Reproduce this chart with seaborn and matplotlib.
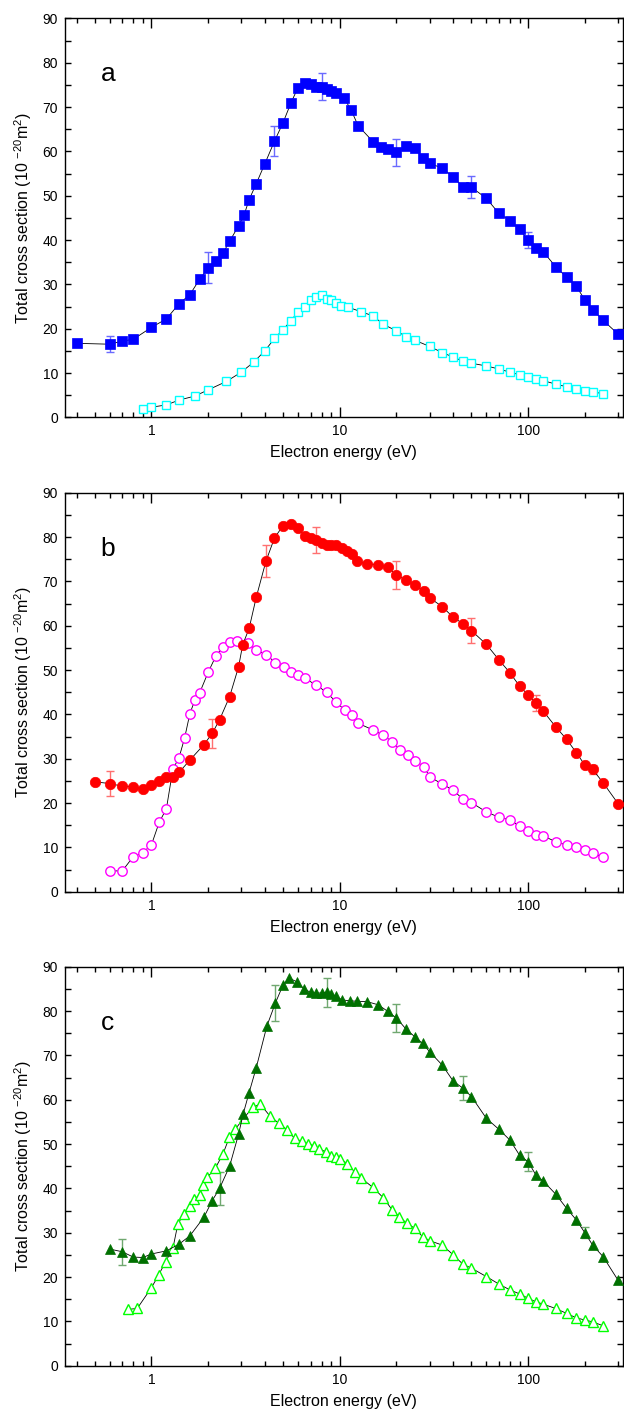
import matplotlib
matplotlib.use("Agg")
import matplotlib.pyplot as plt
import matplotlib.ticker as mticker
import numpy as np
import seaborn as sns

sns.set_style("ticks")
plt.rcParams["font.family"] = ["Liberation Sans", "DejaVu Sans"]
plt.rcParams["mathtext.fontset"] = "custom"
plt.rcParams["mathtext.rm"] = "Liberation Sans"
plt.rcParams["mathtext.it"] = "Liberation Sans"
for k in ["text.color", "axes.labelcolor", "xtick.color", "ytick.color", "axes.edgecolor"]:
    plt.rcParams[k] = "black"

# panel a
a_full_x = [0.4, 0.6, 0.7, 0.8, 1.0, 1.2, 1.4, 1.6, 1.8, 2.0, 2.2, 2.4, 2.6, 2.9, 3.1, 3.3,
            3.6, 4.0, 4.5, 5.0, 5.5, 6.0, 6.5, 7.0, 7.5, 8.0, 8.5, 9.0, 9.5, 10.5, 11.5, 12.5,
            15, 16.5, 18, 20, 22.5, 25, 27.5, 30, 35, 40, 45, 50, 60, 70, 80, 90, 100, 110,
            120, 140, 160, 180, 200, 220, 250, 300]
a_full_y = [16.7, 16.5, 17.2, 17.6, 20.3, 22.2, 25.6, 27.7, 31.1, 33.7, 35.2, 37.1, 39.7,
            43.2, 45.6, 49.1, 52.7, 57.2, 62.3, 66.5, 70.9, 74.4, 75.5, 75.1, 74.6, 74.6,
            74.0, 73.6, 73.1, 72.1, 69.3, 65.8, 62.2, 60.9, 60.6, 59.8, 61.2, 60.7, 58.6,
            57.3, 56.2, 54.2, 52.0, 51.9, 49.4, 46.0, 44.4, 42.4, 40.0, 38.1, 37.4, 34.0,
            31.6, 29.6, 26.5, 24.3, 21.9, 18.8]
a_err_x = [0.6, 2.0, 4.5, 8.0, 20, 50, 100]
a_err = [1.75, 3.5, 3.4, 3.0, 3.0, 2.5, 1.8]
a_open_x = [0.9, 1.0, 1.2, 1.4, 1.7, 2.0, 2.5, 3.0, 3.5, 4.0, 4.5, 5.0, 5.5, 6.0, 6.5, 7.0,
            7.5, 8.0, 8.5, 9.0, 9.5, 10.2, 11, 13, 15, 17, 20, 22.5, 25, 30, 35, 40, 45, 50,
            60, 70, 80, 90, 100, 110, 120, 140, 160, 180, 200, 220, 250]
a_open_y = [1.9, 2.3, 2.8, 3.9, 4.8, 6.2, 8.1, 10.2, 12.5, 15.0, 17.8, 19.8, 21.8, 23.8,
            24.9, 26.5, 27.1, 27.5, 26.8, 26.4, 25.9, 25.2, 24.9, 23.8, 22.9, 21.0, 19.5,
            18.2, 17.4, 16.0, 14.6, 13.6, 12.7, 12.2, 11.6, 10.9, 10.2, 9.6, 9.2, 8.6, 8.3,
            7.5, 6.9, 6.4, 6.0, 5.8, 5.3]

# panel b
b_full_x = [0.5, 0.6, 0.7, 0.8, 0.9, 1.0, 1.1, 1.2, 1.3, 1.4, 1.6, 1.9, 2.1, 2.3, 2.6, 2.9,
            3.05, 3.3, 3.6, 4.05, 4.5, 5.0, 5.5, 6.0, 6.5, 7.0, 7.5, 8.0, 8.5, 9.0, 9.5, 10.3,
            10.9, 11.6, 12.4, 14, 16, 18, 20, 22.5, 25, 28, 30, 35, 40, 45, 50, 60, 70, 80,
            90, 100, 110, 120, 140, 160, 180, 200, 220, 250, 300]
b_full_y = [24.8, 24.4, 23.8, 23.7, 23.2, 24.1, 25.0, 25.9, 25.9, 26.9, 29.7, 33.2, 35.7,
            38.8, 44.0, 50.7, 55.7, 59.4, 66.4, 74.5, 79.8, 82.6, 82.9, 82.0, 80.3, 79.8,
            79.3, 78.7, 78.3, 78.3, 78.2, 77.6, 76.9, 76.2, 74.7, 73.9, 73.8, 73.2, 71.4,
            70.3, 69.2, 67.8, 66.3, 64.3, 61.9, 60.5, 58.9, 55.8, 52.3, 49.4, 46.4, 44.4,
            42.5, 40.8, 37.2, 34.4, 31.4, 28.6, 27.6, 24.6, 19.9]
b_err_x = [0.6, 2.1, 4.05, 7.5, 20, 50, 110, 220]
b_err = [2.8, 3.2, 3.6, 3.0, 3.2, 2.85, 1.8, 1.0]
b_open_x = [0.6, 0.7, 0.8, 0.9, 1.0, 1.1, 1.2, 1.3, 1.4, 1.5, 1.6, 1.7, 1.8, 2.0, 2.2, 2.4,
            2.6, 2.85, 3.25, 3.6, 4.05, 4.55, 5.05, 5.5, 6.0, 6.55, 7.5, 8.5, 9.5, 10.6, 11.6,
            12.5, 15, 17, 19, 21, 23, 25, 28, 30, 35, 40, 45, 50, 60, 70, 80, 90, 100, 110,
            120, 140, 160, 180, 200, 220, 250]
b_open_y = [4.7, 4.7, 7.9, 8.8, 10.6, 15.7, 18.7, 27.7, 30.2, 34.7, 40.2, 43.2, 44.8, 49.5,
            53.2, 55.3, 56.3, 56.6, 56.0, 54.5, 53.5, 51.7, 50.6, 49.5, 48.9, 48.1, 46.6,
            45.0, 42.9, 41.0, 39.8, 38.0, 36.5, 35.3, 33.8, 32.0, 30.8, 29.6, 28.2, 25.9,
            24.3, 22.9, 20.9, 20.1, 18.0, 16.8, 16.2, 14.8, 13.8, 12.8, 12.6, 11.3, 10.5,
            10.0, 9.4, 8.7, 7.8]

# panel c
c_full_x = [0.6, 0.7, 0.8, 0.9, 1.0, 1.2, 1.4, 1.6, 1.9, 2.1, 2.3, 2.6, 2.9, 3.07, 3.3, 3.6,
            4.1, 4.55, 5.0, 5.4, 5.9, 6.45, 7.0, 7.5, 8.0, 8.5, 9.0, 9.5, 10.3, 11.3, 12.4,
            14, 16, 18, 20, 22.5, 25, 27.5, 30, 35, 40, 45, 50, 60, 70, 80, 90, 100, 110, 120,
            140, 160, 180, 200, 220, 250, 300]
c_full_y = [26.3, 25.7, 24.5, 24.4, 25.2, 25.9, 27.4, 29.3, 33.5, 37.2, 40.0, 45.0, 52.2,
            56.8, 61.6, 67.2, 76.6, 81.8, 85.9, 87.4, 86.6, 85.0, 84.2, 84.0, 84.1, 84.2,
            83.9, 83.3, 82.5, 82.3, 82.2, 82.1, 81.4, 79.9, 78.4, 75.9, 74.2, 72.7, 70.8,
            67.8, 64.2, 62.6, 60.7, 55.8, 53.3, 50.9, 47.5, 46.0, 43.0, 41.7, 38.7, 35.5,
            32.9, 30.0, 27.2, 24.6, 19.3]
c_err_x = [0.7, 2.3, 4.55, 8.5, 20, 45, 100, 200]
c_err = [2.9, 3.8, 4.0, 3.3, 3.2, 2.7, 2.1, 1.3]
c_open_x = [0.75, 0.84, 1.0, 1.09, 1.19, 1.3, 1.38, 1.48, 1.6, 1.69, 1.8, 1.88, 1.98, 2.18,
            2.4, 2.59, 2.79, 3.09, 3.45, 3.78, 4.24, 4.73, 5.25, 5.75, 6.28, 6.76, 7.27, 7.8,
            8.42, 8.95, 9.5, 10.05, 10.9, 12.0, 12.9, 15, 17, 19, 20.7, 22.7, 25, 27.5, 30,
            35, 40, 45, 50, 60, 70, 80, 90, 100, 110, 120, 140, 160, 180, 200, 220, 250]
c_open_y = [12.7, 12.9, 17.6, 20.4, 23.5, 26.5, 31.9, 34.2, 36.0, 37.6, 38.5, 40.7, 42.5,
            44.5, 47.8, 51.5, 53.4, 55.8, 58.3, 59.0, 56.4, 54.7, 53.2, 51.3, 50.6, 50.1,
            49.6, 48.8, 48.3, 47.4, 47.0, 46.7, 45.6, 43.7, 42.4, 40.2, 37.9, 35.1, 33.6,
            32.1, 31.0, 29.1, 28.2, 27.2, 25.0, 22.9, 22.0, 20.1, 18.4, 17.1, 16.2, 15.2,
            14.4, 13.9, 12.9, 11.8, 10.8, 10.3, 9.9, 9.0]

panels = [
    ("a", a_full_x, a_full_y, a_err_x, a_err, a_open_x, a_open_y,
     "s", "#0000ff", "#00ffff", 6.5, 6.0, "#6a6aff"),
    ("b", b_full_x, b_full_y, b_err_x, b_err, b_open_x, b_open_y,
     "o", "#ff0000", "#ff00ff", 7.5, 6.8, "#ff7070"),
    ("c", c_full_x, c_full_y, c_err_x, c_err, c_open_x, c_open_y,
     "^", "#007000", "#00ff00", 7.5, 6.8, "#70a870"),
]

fig = plt.figure(figsize=(6.24, 14.22), dpi=100)
bottoms = [0.7065, 0.3729, 0.0396]

for (letter, fx, fy, ex, ee, ox, oy, mk, col, ocol, ms, oms, ecol), bot in zip(panels, bottoms):
    ax = fig.add_axes([0.104, bot, 0.894, 0.2806])
    ax.set_xscale("log")

    ey = [fy[fx.index(v)] for v in ex]
    ax.errorbar(ex, ey, yerr=ee, fmt="none", ecolor=ecol, elinewidth=1.0,
                capsize=3, capthick=1.0, zorder=2)

    sns.lineplot(x=ox, y=oy, ax=ax, color="black", lw=0.6, marker=mk, ms=oms,
                 mfc="white", mec=ocol, mew=1.0, estimator=None, sort=False, zorder=3)
    sns.lineplot(x=fx, y=fy, ax=ax, color="black", lw=0.6, marker=mk, ms=ms,
                 mfc=col, mec=col, mew=0.5, estimator=None, sort=False, zorder=4)

    ax.set_xlim(0.347, 318)
    ax.set_ylim(0, 90)
    ax.xaxis.set_major_locator(mticker.FixedLocator([1, 10, 100]))
    ax.xaxis.set_major_formatter(mticker.FixedFormatter(["1", "10", "100"]))
    ax.xaxis.set_minor_locator(mticker.LogLocator(base=10, subs=np.arange(2, 10)))
    ax.xaxis.set_minor_formatter(mticker.NullFormatter())
    ax.yaxis.set_major_locator(mticker.MultipleLocator(10))
    ax.yaxis.set_minor_locator(mticker.MultipleLocator(5))

    ax.tick_params(which="both", direction="in", top=True, right=True,
                   width=1.0, labelsize=10, pad=5, colors="black")
    ax.tick_params(axis="x", which="major", length=7)
    ax.tick_params(axis="x", which="minor", length=3.5)
    ax.tick_params(axis="y", which="both", length=4)
    for sp in ax.spines.values():
        sp.set_linewidth(1.0)
        sp.set_color("black")

    ax.set_xlabel("Electron energy (eV)", fontsize=11.5, labelpad=5, color="black")
    ax.set_ylabel("Total cross section (10 $^{-20}$m$^{2}$)", fontsize=11.5, labelpad=6,
                  color="black")
    ax.text(0.077, 0.86, letter, transform=ax.transAxes, fontsize=19,
            ha="center", va="center", color="black")

fig.savefig("out.png", dpi=100)
